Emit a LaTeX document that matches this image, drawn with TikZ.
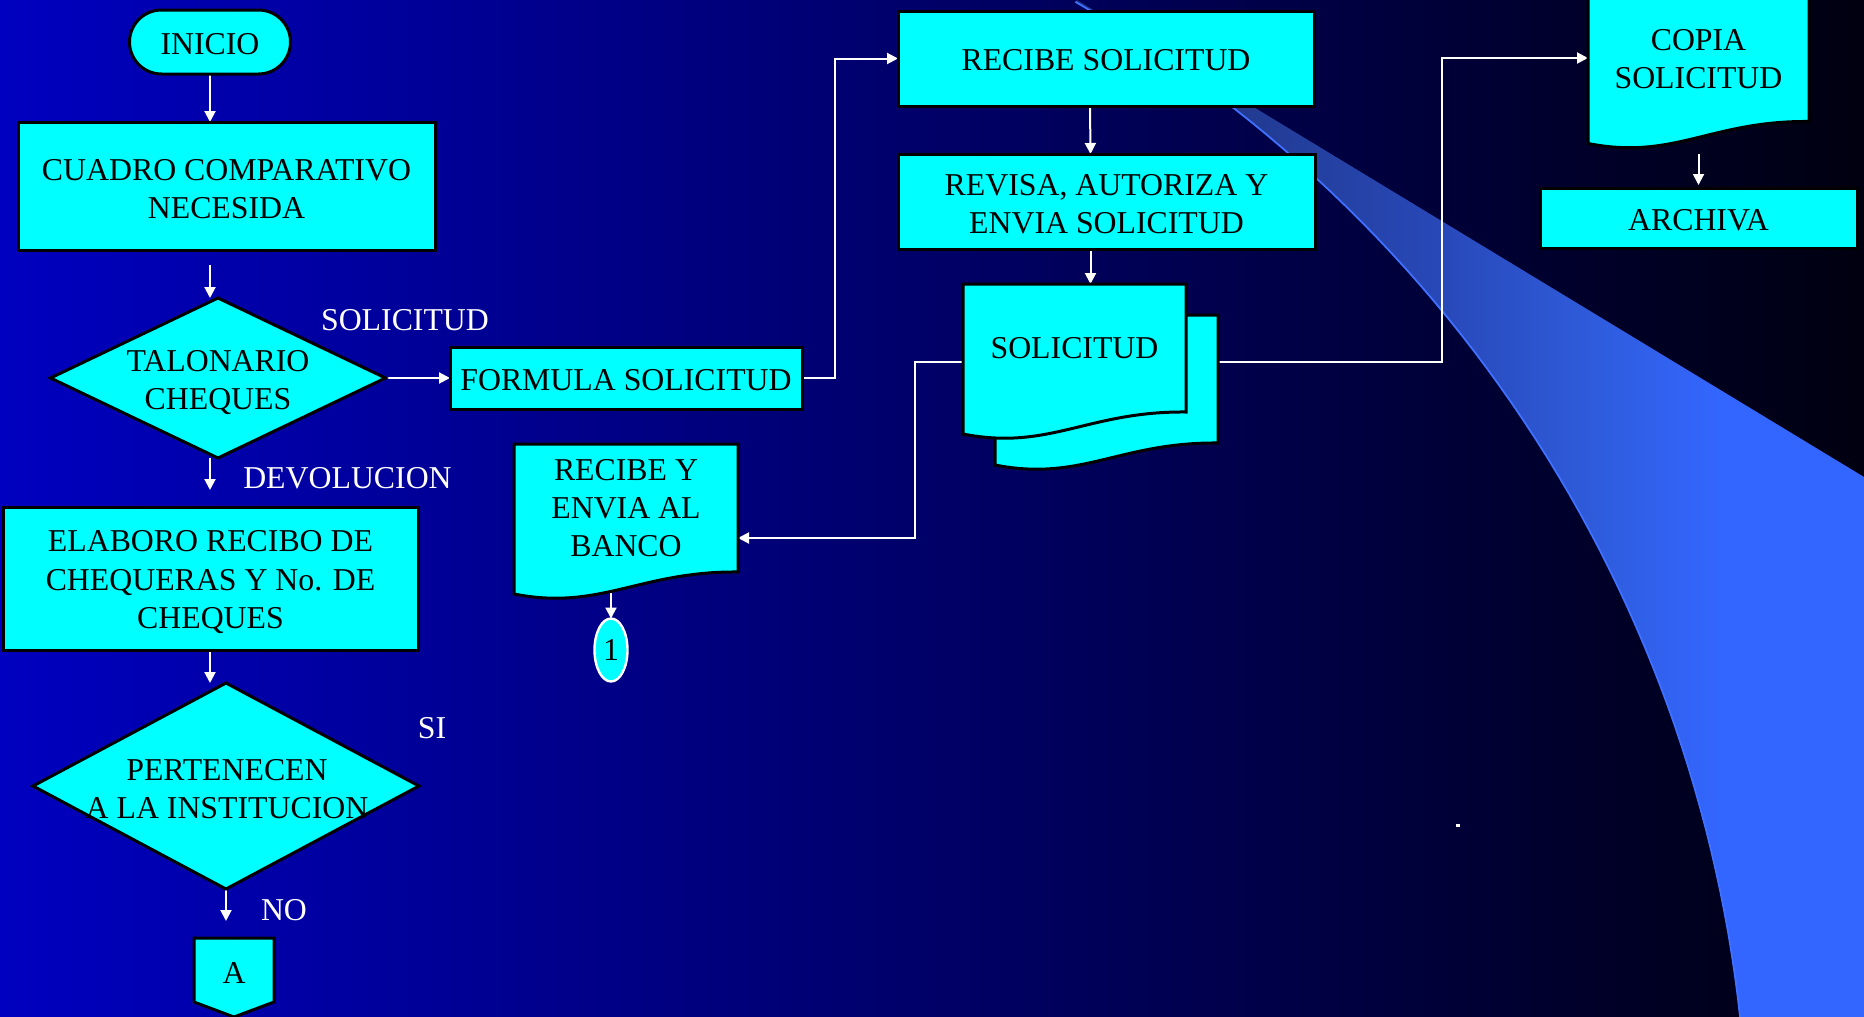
\documentclass[tikz,border=0pt]{standalone}
\usepackage{fontspec}
\setmainfont{Liberation Serif}
\usetikzlibrary{shapes.geometric,arrows.meta}

\pgfdeclarelayer{backdrop}
\pgfdeclarelayer{links}
\pgfdeclarelayer{sheets}
\pgfsetlayers{backdrop,links,sheets,main}

\definecolor{boxcyan}{RGB}{0,255,255}
\definecolor{bgleft}{RGB}{0,0,192}
\definecolor{bgright}{RGB}{0,0,16}
\definecolor{swA}{RGB}{30,50,130}
\definecolor{swB}{RGB}{33,58,143}
\definecolor{swC}{RGB}{40,72,184}
\definecolor{swD}{RGB}{47,92,220}
\definecolor{swE}{RGB}{51,102,255}
\definecolor{swedge}{RGB}{64,112,255}

% light band sweeping across the right side
\pgfdeclarehorizontalshading{swoosh}{100bp}{color(0bp)=(swA); color(25bp)=(swA); color(35bp)=(swB); color(48bp)=(swC); color(58bp)=(swD); color(66bp)=(swE); color(100bp)=(swE)}

% document symbol: flat top, wavy bottom
\newcommand\drawsheet[1]{%
  \filldraw[sheet] (#1.north west) -- (#1.north east) -- (#1.south east)
    .. controls +(-98,-1) and +(86,17) .. ([yshift=-11pt]#1.south west) -- cycle;}

% invisible strut that lowers the first line of a text block
\newcommand\lowerby[1]{\rule{0pt}{#1}}

\begin{document}
\begin{tikzpicture}[x=0.5pt,y=-0.5pt,
  font=\fontsize{15.9}{19}\selectfont,
  box/.style={draw=black, line width=1.5pt, fill=boxcyan, align=center, inner sep=2pt, outer sep=0pt},
  onebox/.style={box, execute at begin node={\rule{0pt}{12.4pt}}},
  dia/.style={diamond, draw=black, line width=1.5pt, fill=boxcyan, inner sep=0pt, outer sep=0pt},
  inner/.style={align=center, inner sep=0pt},
  doctext/.style={align=center, inner sep=0pt, outer sep=0pt},
  sheet/.style={fill=boxcyan, draw=black, line width=1.5pt, line join=miter},
  arr/.style={draw=white, line width=1pt, -{Triangle[length=5.5pt,width=5.5pt]}},
  lbl/.style={text=white, anchor=base, inner sep=0pt}]

\useasboundingbox (0,0) rectangle (1864,1017);

% background
\begin{pgfonlayer}{backdrop}
  \shade[left color=bgleft, right color=bgright] (0,0) rectangle (1864,1017);
  \shade[shading=swoosh] (1077,0) -- (1864,477) -- (1864,1017) -- (1741,1017)
    -- plot[domain=6.2:60.2, samples=60] ({411+1337*cos(\x)},{1162-1337*sin(\x)})
    -- cycle;
  \draw[swedge, line width=0.9pt]
    plot[domain=60.2:6.2, samples=60] ({411+1337*cos(\x)},{1162-1337*sin(\x)});
  \fill[white] (1456,824) rectangle (1460,827);
\end{pgfonlayer}

% left column
\node[onebox, rounded corners=16pt, minimum width=80.5pt, minimum height=32pt] (inicio) at (210,42) {INICIO};
\node[box, minimum width=208.5pt, minimum height=64pt] (cuadro) at (226.5,186) {\lowerby{13.2pt}CUADRO COMPARATIVO\\NECESIDA};
\node[dia, minimum width=167.5pt, minimum height=80pt] (talon) at (218,378) {};
\node[inner] (talontxt) at (218,382.5) {TALONARIO\\CHEQUES};
\node[box, minimum width=207.5pt, minimum height=71.5pt, font=\fontsize{15.9}{19.3}\selectfont]
  (elaboro) at (210.5,578.5) {\lowerby{14.4pt}ELABORO RECIBO DE\\CHEQUERAS Y No. DE\\CHEQUES};
\node[dia, minimum width=193pt, minimum height=103pt] (pert) at (226,786) {};
\node[inner] (perttxt) at (227,789) {PERTENECEN\\A LA INSTITUCION};
\node[doctext, minimum width=40pt, minimum height=32pt, execute at begin node={\rule{0pt}{13.5pt}}] (conA) at (234,970) {A};

% middle
\node[onebox, minimum width=176pt, minimum height=31pt] (formula) at (626,378) {FORMULA SOLICITUD};
\node[doctext, minimum width=112pt, minimum height=64pt] (recibey) at (626,508) {RECIBE Y\\ENVIA AL\\BANCO};
\node[ellipse, draw=white, line width=1.2pt, fill=boxcyan, inner sep=0pt, outer sep=0pt,
      minimum width=16.5pt, minimum height=31.5pt] (one) at (611,650) {1};

\node[onebox, minimum width=208pt, minimum height=47.5pt] (recibe) at (1106,58.5) {RECIBE SOLICITUD};
\node[box, minimum width=208.5pt, minimum height=47.5pt] (revisa) at (1106.5,201.5) {\lowerby{13.2pt}REVISA, AUTORIZA Y\\ENVIA SOLICITUD};
\node[doctext, minimum width=111.5pt, minimum height=64pt] (solback) at (1106.5,379) {};
\node[doctext, minimum width=111.5pt, minimum height=64pt] (solfront) at (1074.5,348) {SOLICITUD};

% right
\node[doctext, minimum width=110.5pt, minimum height=62.5pt] (copia) at (1698.5,59) {COPIA\\SOLICITUD};
\node[onebox, minimum width=158.5pt, minimum height=30pt] (archiva) at (1698.5,218) {ARCHIVA};

% document and connector outlines
\begin{pgfonlayer}{sheets}
  \drawsheet{recibey}
  \drawsheet{solback}
  \drawsheet{solfront}
  \drawsheet{copia}
  \filldraw[sheet] (conA.north west) -- (conA.north east) -- (conA.south east)
    -- ([yshift=-7.5pt]conA.south) -- (conA.south west) -- cycle;
\end{pgfonlayer}

% branch labels
\node[lbl] (lsol) at (405,330) {SOLICITUD};
\node[lbl] (ldev) at (347.5,488) {DEVOLUCION};
\node[lbl] (lsi) at (432,738) {SI};
\node[lbl] (lno) at (284,920) {NO};

% flow lines
\begin{pgfonlayer}{links}
  \draw[arr] (inicio.south) -- (inicio.south |- cuadro.north);
  \draw[arr, shorten <=7.5pt] (cuadro.south -| inicio.south) -- (talon.north -| inicio.south);
  \draw[arr] (talon.east) -- (formula.west);
  \draw[arr, shorten >=8.5pt] (talon.south -| inicio.south) -- (elaboro.north -| inicio.south);
  \draw[arr] (elaboro.south -| inicio.south) -- (pert.north -| inicio.south);
  \draw[arr, shorten >=8.5pt] (pert.south) -- (conA.north -| pert.south);
  \draw[arr] (formula.east) -- ++(33,0) |- (recibe.west);
  \draw[arr] ([xshift=-8pt]recibe.south) -- ([xshift=-8pt]revisa.north);
  \draw[arr] ([xshift=-8pt]revisa.south) -- ([xshift=-8pt]revisa.south |- solfront.north);
  \draw[arr] ([yshift=-7pt]solfront.west) -- ++(-48,0) |- ([yshift=-15pt]recibey.east);
  \draw[arr] ([yshift=8.5pt]solback.east) -- ++(224,0) |- ([yshift=0.5pt]copia.west);
  \draw[arr] (recibey.south -| one.north) -- (one.north);
  \draw[arr, shorten >=1.5pt] ([yshift=-16pt]copia.south) -- (archiva.north);
\end{pgfonlayer}

\end{tikzpicture}
\end{document}
